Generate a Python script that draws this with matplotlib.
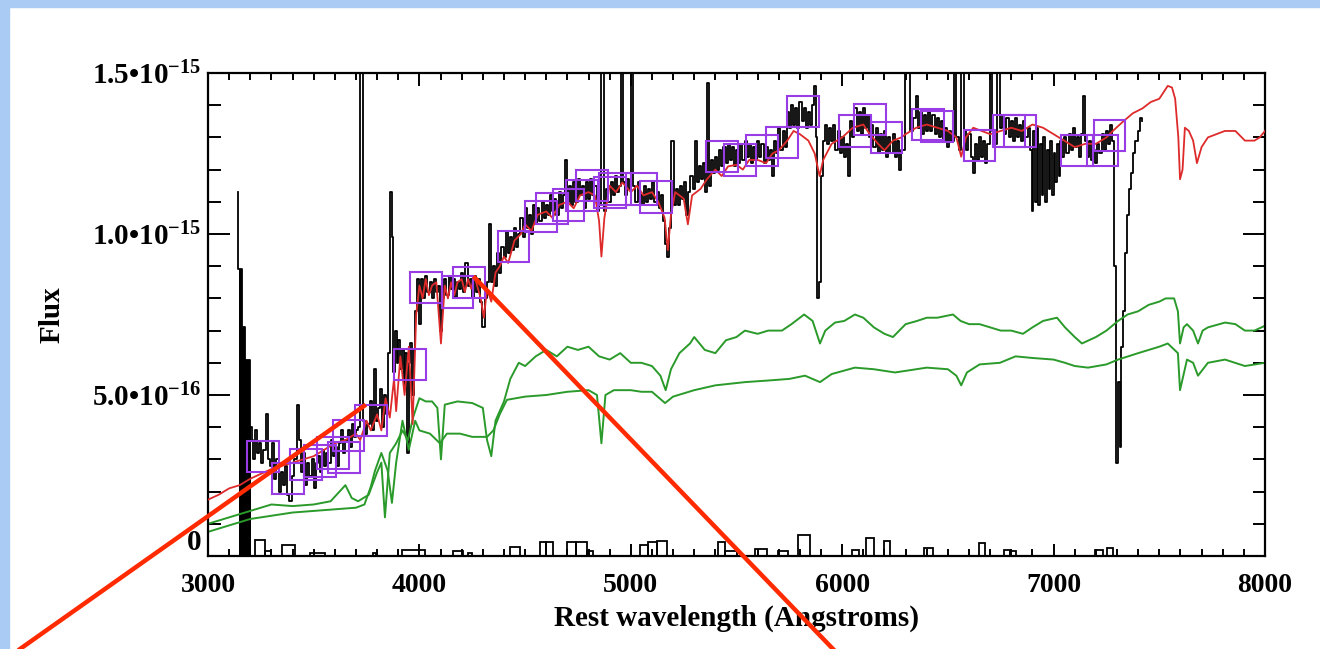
import matplotlib.pyplot as plt
import numpy as np
from matplotlib.patches import Rectangle
from matplotlib.lines import Line2D

plt.rcParams['font.family'] = ['Liberation Serif', 'DejaVu Serif']
plt.rcParams['font.weight'] = 'bold'
plt.rcParams['mathtext.fontset'] = 'custom'
plt.rcParams['mathtext.rm'] = 'Liberation Serif:bold'
plt.rcParams['mathtext.default'] = 'rm'

# flux values are in units of 1e-16

# saturated block at the blue end of the observed spectrum (filled down to 0)
obs_block = [
    (3140, 11.3), (3147, 8.9), (3155, 8.9), (3163, 7.1), (3171, 7.1), (3179, 6.1),
    (3187, 6.1), (3195, 6.1), (3203, 4.0),
]

# observed spectrum (wavelength, flux)
obs = [
    (3211, 3.6), (3219, 3.0), (3227, 3.9), (3237, 3.2), (3247, 3.5),
    (3257, 2.9), (3267, 3.3), (3279, 4.4), (3289, 3.0), (3299, 2.8), (3309, 3.5),
    (3319, 2.4), (3329, 3.0), (3339, 2.0), (3349, 2.6), (3359, 2.2), (3369, 2.8),
    (3379, 1.9), (3391, 1.7), (3403, 2.5), (3413, 3.0), (3425, 4.7), (3435, 3.6),
    (3445, 2.6), (3455, 3.2), (3465, 2.2), (3475, 2.9), (3485, 2.5), (3495, 3.0),
    (3505, 2.1), (3515, 2.9), (3525, 3.1), (3535, 2.6), (3545, 3.3), (3555, 2.8),
    (3565, 3.2), (3575, 2.9), (3585, 3.6), (3595, 3.1), (3605, 3.4), (3615, 2.8),
    (3625, 3.5), (3635, 3.9), (3645, 3.2), (3655, 3.6), (3665, 3.9), (3675, 3.4),
    (3685, 4.1), (3695, 3.7), (3705, 3.9), (3715, 4.0), (3727, 30.0), (3739, 4.2),
    (3749, 3.8), (3759, 4.1), (3769, 4.8), (3779, 3.9), (3789, 5.8), (3799, 4.2),
    (3809, 4.6), (3819, 5.2), (3829, 4.0), (3839, 5.0), (3849, 4.4), (3857, 6.3),
    (3865, 11.3), (3873, 9.9), (3881, 5.7), (3889, 7.0), (3897, 6.0), (3905, 6.7),
    (3913, 5.8), (3921, 6.4), (3929, 5.2), (3937, 6.3), (3945, 3.2), (3953, 6.0),
    (3961, 6.6), (3969, 5.0), (3977, 6.4), (3985, 7.6), (3993, 8.6), (4003, 7.2),
    (4013, 8.6), (4023, 8.0), (4033, 8.7), (4043, 8.2), (4053, 8.5), (4063, 8.0),
    (4073, 8.6), (4083, 8.2), (4093, 8.4), (4103, 7.0), (4113, 8.0), (4123, 8.6),
    (4133, 8.1), (4143, 8.7), (4153, 8.3), (4163, 8.6), (4173, 8.0), (4183, 8.5),
    (4193, 8.3), (4203, 8.8), (4213, 8.2), (4223, 9.1), (4233, 8.4), (4243, 8.6),
    (4253, 8.0), (4263, 8.7), (4273, 8.2), (4283, 8.6), (4293, 7.9), (4303, 7.1),
    (4313, 8.0), (4323, 8.5), (4333, 10.3), (4343, 8.5), (4353, 9.0), (4363, 8.4),
    (4373, 9.4), (4383, 8.8), (4393, 9.6), (4403, 9.3), (4413, 10.1), (4423, 9.4),
    (4433, 9.9), (4443, 9.5), (4453, 10.2), (4463, 9.6), (4473, 10.0), (4483, 10.5),
    (4493, 9.9), (4503, 10.8), (4513, 10.2), (4523, 10.6), (4533, 10.0), (4543, 10.9),
    (4553, 10.3), (4563, 10.8), (4573, 10.4), (4583, 11.0), (4593, 10.5), (4603, 10.9),
    (4613, 10.6), (4623, 11.2), (4633, 10.7), (4643, 11.1), (4653, 10.6), (4663, 11.3),
    (4673, 10.8), (4683, 11.2), (4693, 12.3), (4703, 11.0), (4713, 11.5), (4723, 10.9),
    (4733, 11.6), (4743, 11.0), (4753, 11.7), (4763, 11.2), (4773, 11.5), (4783, 10.8),
    (4793, 11.6), (4803, 11.1), (4813, 11.7), (4823, 11.2), (4833, 11.5), (4843, 10.7),
    (4853, 10.9), (4865, 30.0), (4877, 10.7), (4889, 11.4), (4899, 11.0), (4909, 11.6),
    (4919, 11.2), (4929, 11.8), (4939, 11.3), (4947, 11.5), (4957, 30.0), (4967, 11.6),
    (4977, 11.2), (4987, 11.7), (4997, 11.4), (5007, 30.0), (5017, 11.5), (5027, 11.0),
    (5037, 11.6), (5047, 11.2), (5057, 10.9), (5067, 11.5), (5077, 11.0), (5087, 11.4),
    (5097, 11.1), (5107, 11.6), (5117, 11.0), (5127, 11.3), (5137, 10.8), (5147, 11.2),
    (5157, 10.4), (5167, 9.7), (5177, 9.3), (5187, 10.2), (5197, 12.9), (5207, 10.9),
    (5217, 11.4), (5227, 10.9), (5237, 11.5), (5247, 11.1), (5257, 11.6), (5267, 10.6),
    (5277, 11.3), (5287, 11.8), (5297, 11.4), (5307, 12.9), (5317, 11.6), (5327, 12.1),
    (5337, 11.7), (5347, 12.2), (5357, 11.3), (5365, 14.7), (5373, 11.5), (5383, 12.3),
    (5393, 11.9), (5403, 12.4), (5413, 12.0), (5423, 12.6), (5433, 12.1), (5443, 12.7),
    (5453, 12.2), (5463, 12.8), (5473, 12.3), (5483, 12.7), (5493, 12.1), (5503, 12.6),
    (5513, 12.2), (5523, 12.8), (5533, 12.3), (5543, 12.9), (5553, 12.4), (5563, 12.8),
    (5573, 12.2), (5583, 12.7), (5593, 12.3), (5603, 12.9), (5613, 12.4), (5623, 12.8),
    (5633, 12.2), (5643, 12.7), (5653, 12.3), (5663, 12.6), (5673, 11.8), (5683, 12.9),
    (5693, 12.5), (5703, 13.3), (5713, 12.6), (5723, 13.2), (5733, 12.7), (5743, 13.8),
    (5753, 13.3), (5763, 14.0), (5773, 13.4), (5783, 13.9), (5793, 13.3), (5803, 14.1),
    (5813, 13.5), (5823, 13.9), (5833, 13.3), (5843, 13.8), (5853, 13.4), (5863, 14.0),
    (5871, 14.6), (5879, 13.0), (5887, 8.0), (5895, 8.5), (5903, 11.8), (5913, 12.9),
    (5923, 13.4), (5933, 12.8), (5943, 13.3), (5953, 12.9), (5963, 13.4), (5973, 12.6),
    (5983, 13.2), (5993, 12.5), (6003, 13.0), (6013, 12.4), (6023, 12.8), (6033, 11.8),
    (6043, 13.5), (6053, 13.0), (6063, 13.9), (6073, 13.2), (6083, 13.8), (6093, 13.1),
    (6103, 13.9), (6113, 13.3), (6123, 13.7), (6133, 13.0), (6143, 13.4), (6153, 12.7),
    (6163, 13.3), (6173, 12.5), (6183, 13.1), (6193, 12.6), (6203, 13.2), (6213, 12.4),
    (6223, 13.0), (6233, 12.5), (6243, 13.1), (6253, 12.4), (6263, 12.9), (6273, 12.0),
    (6284, 12.6), (6308, 30.0), (6332, 13.2), (6342, 13.6), (6352, 14.3), (6362, 13.3),
    (6372, 13.8), (6382, 13.1), (6392, 13.7), (6402, 13.2), (6412, 13.8), (6422, 13.2),
    (6432, 13.7), (6442, 13.1), (6452, 13.6), (6462, 13.0), (6472, 13.5), (6482, 12.9),
    (6492, 13.3), (6502, 12.7), (6512, 13.2), (6522, 12.9), (6534, 30.0), (6546, 13.0),
    (6558, 12.6), (6570, 30.0), (6582, 13.2), (6592, 12.6), (6602, 13.1), (6612, 12.4),
    (6622, 11.9), (6632, 12.8), (6642, 12.3), (6652, 13.0), (6662, 12.4), (6672, 12.9),
    (6682, 12.2), (6692, 12.8), (6704, 30.0), (6716, 13.2), (6728, 12.8), (6740, 30.0),
    (6752, 13.3), (6762, 13.7), (6772, 13.1), (6782, 13.6), (6792, 13.0), (6802, 13.5),
    (6812, 12.9), (6822, 13.6), (6832, 13.0), (6842, 13.4), (6852, 12.9), (6862, 13.5),
    (6872, 13.0), (6882, 13.3), (6892, 12.6), (6900, 10.7), (6908, 13.2), (6916, 11.0),
    (6924, 13.3), (6932, 10.9), (6940, 12.8), (6948, 11.2), (6956, 13.0), (6964, 11.0),
    (6972, 12.6), (6980, 11.4), (6988, 12.9), (6996, 11.2), (7004, 12.5), (7012, 11.6),
    (7020, 12.8), (7028, 11.8), (7036, 12.9), (7046, 12.4), (7056, 13.0), (7066, 12.5),
    (7076, 13.1), (7086, 12.6), (7096, 13.3), (7106, 12.7), (7116, 13.0), (7126, 12.4),
    (7136, 13.1), (7144, 14.3), (7152, 12.9), (7162, 12.4), (7172, 12.9), (7182, 12.3),
    (7192, 12.6), (7202, 12.2), (7212, 12.8), (7222, 12.5), (7232, 13.1), (7242, 12.6),
    (7252, 13.2), (7262, 12.8), (7272, 13.4), (7282, 12.9), (7292, 9.0), (7300, 2.9),
    (7308, 5.4), (7316, 3.4), (7324, 6.5), (7332, 7.6), (7342, 9.4), (7352, 10.6),
    (7362, 11.4), (7372, 11.9), (7382, 12.5), (7392, 12.9), (7402, 13.2), (7412, 13.6),
    (7420, 13.5),
]

# best-fit model (red)
model = [
    (3000, 1.75), (3050, 1.9), (3100, 2.1), (3150, 2.2), (3200, 2.4), (3250, 2.55),
    (3300, 2.7), (3350, 2.8), (3400, 2.9), (3450, 3.0), (3500, 3.1), (3550, 3.3),
    (3600, 3.5), (3650, 3.6), (3700, 3.8), (3720, 3.6), (3750, 4.2), (3770, 3.9),
    (3800, 4.4), (3820, 3.9), (3840, 4.9), (3860, 4.3), (3880, 5.5), (3890, 4.5),
    (3910, 6.2), (3930, 5.0), (3950, 6.5), (3968, 4.1), (3985, 7.5), (4000, 8.4),
    (4015, 8.0), (4030, 8.6), (4045, 8.1), (4060, 8.4), (4080, 8.5), (4102, 6.6),
    (4120, 8.4), (4135, 8.0), (4150, 8.5), (4165, 8.1), (4180, 8.5), (4200, 8.6),
    (4215, 8.2), (4230, 8.6), (4245, 8.3), (4260, 8.7), (4290, 8.0), (4305, 7.4),
    (4320, 8.3), (4340, 7.9), (4360, 8.8), (4380, 9.0), (4400, 9.3), (4420, 9.1),
    (4450, 9.8), (4480, 10.0), (4500, 10.3), (4530, 10.1), (4560, 10.6), (4600, 10.7),
    (4630, 10.5), (4660, 10.9), (4700, 11.0), (4730, 10.8), (4760, 11.2), (4800, 11.3),
    (4830, 11.2), (4850, 10.4), (4861, 9.3), (4875, 10.5), (4900, 11.5), (4930, 11.3),
    (4960, 11.6), (5000, 11.3), (5030, 11.5), (5060, 11.2), (5100, 11.3), (5130, 11.0),
    (5160, 10.5), (5175, 9.5), (5190, 10.6), (5210, 11.3), (5250, 11.1), (5270, 10.3),
    (5290, 11.2), (5330, 11.4), (5360, 11.7), (5400, 12.0), (5430, 11.8), (5460, 12.1),
    (5500, 12.15), (5530, 12.0), (5560, 12.3), (5600, 12.3), (5640, 12.2), (5670, 12.5),
    (5700, 12.6), (5740, 12.9), (5770, 13.2), (5800, 13.1), (5840, 12.9), (5870, 12.5),
    (5893, 11.8), (5910, 12.3), (5950, 12.8), (6000, 13.0), (6050, 13.3), (6100, 13.4),
    (6130, 13.1), (6170, 12.8), (6200, 12.6), (6240, 12.9), (6280, 13.0), (6300, 13.1),
    (6350, 13.3), (6400, 13.4), (6450, 13.3), (6500, 13.2), (6540, 13.0), (6563, 12.4),
    (6585, 13.0), (6620, 13.3), (6660, 13.2), (6700, 13.1), (6750, 13.2), (6800, 13.3),
    (6850, 13.2), (6900, 13.4), (6950, 13.3), (7000, 13.1), (7050, 12.9), (7100, 12.7),
    (7150, 12.8), (7200, 12.8), (7250, 13.0), (7280, 13.2), (7330, 13.5), (7375, 13.75),
    (7420, 13.9), (7460, 14.1), (7500, 14.2), (7520, 14.4), (7540, 14.6), (7560, 14.55),
    (7575, 14.2), (7590, 13.0), (7598, 11.7), (7610, 12.0), (7621, 13.3), (7640, 13.2),
    (7660, 12.9), (7678, 12.2), (7700, 12.7), (7730, 13.0), (7770, 13.1), (7810, 13.2),
    (7860, 13.2), (7905, 12.9), (7950, 12.9), (7975, 13.0), (8000, 13.2),
]

# old stellar population component (upper green at red end)
comp_old = [
    (3000, 1.0), (3100, 1.2), (3200, 1.4), (3300, 1.6), (3400, 1.55), (3500, 1.6),
    (3580, 1.7), (3650, 2.2), (3680, 1.8), (3710, 1.7), (3760, 1.9), (3800, 2.6),
    (3820, 2.9), (3837, 1.2), (3860, 3.2), (3890, 3.5), (3920, 3.9), (3946, 3.6),
    (3970, 4.3), (4000, 4.9), (4030, 4.8), (4060, 4.8), (4085, 4.6), (4102, 3.0),
    (4120, 4.7), (4180, 4.8), (4250, 4.75), (4300, 4.6), (4320, 3.6), (4340, 3.1),
    (4360, 4.2), (4400, 4.8), (4430, 5.5), (4470, 6.0), (4500, 5.9), (4550, 6.2),
    (4600, 6.4), (4650, 6.2), (4700, 6.5), (4750, 6.4), (4800, 6.5), (4850, 6.2),
    (4900, 6.1), (4950, 6.3), (5000, 6.0), (5050, 6.0), (5100, 5.9), (5140, 5.6),
    (5165, 5.15), (5190, 5.8), (5230, 6.3), (5280, 6.6), (5300, 6.8), (5350, 6.4),
    (5400, 6.3), (5450, 6.7), (5500, 6.8), (5540, 7.0), (5600, 6.9), (5650, 7.0),
    (5715, 7.0), (5760, 7.2), (5820, 7.5), (5860, 7.3), (5880, 6.9), (5895, 6.6),
    (5920, 7.0), (5966, 7.25), (6010, 7.3), (6060, 7.5), (6100, 7.4), (6150, 7.1),
    (6200, 6.9), (6240, 6.8), (6300, 7.2), (6354, 7.3), (6400, 7.4), (6450, 7.4),
    (6524, 7.5), (6560, 7.3), (6600, 7.2), (6650, 7.2), (6700, 7.1), (6750, 7.0),
    (6800, 7.0), (6855, 6.9), (6900, 7.1), (6950, 7.3), (7016, 7.4), (7054, 7.1),
    (7100, 6.8), (7134, 6.6), (7200, 6.8), (7250, 7.0), (7305, 7.3), (7350, 7.5),
    (7400, 7.6), (7450, 7.8), (7500, 7.9), (7530, 8.0), (7570, 8.0), (7588, 7.6),
    (7598, 6.6), (7615, 7.1), (7631, 7.2), (7660, 7.0), (7683, 6.6), (7705, 7.0),
    (7730, 7.1), (7811, 7.25), (7860, 7.2), (7905, 7.0), (7950, 7.0), (8000, 7.15),
]

# young stellar population component (lower green at red end)
comp_young = [
    (3000, 0.75), (3100, 0.95), (3200, 1.15), (3300, 1.25), (3400, 1.35), (3500, 1.4),
    (3600, 1.45), (3700, 1.5), (3740, 1.6), (3770, 2.15), (3790, 2.65), (3820, 3.2),
    (3850, 2.65), (3870, 1.65), (3890, 2.9), (3920, 4.2), (3950, 3.3), (3980, 4.2),
    (4000, 3.9), (4050, 3.8), (4097, 3.5), (4130, 3.8), (4192, 3.8), (4250, 3.7),
    (4320, 3.7), (4350, 3.9), (4380, 4.4), (4414, 4.85), (4500, 4.95), (4600, 5.0),
    (4700, 5.1), (4800, 5.15), (4840, 5.0), (4861, 3.5), (4880, 5.0), (4920, 5.15),
    (5000, 5.15), (5050, 5.1), (5100, 5.1), (5162, 4.75), (5200, 4.95), (5300, 5.15),
    (5400, 5.3), (5540, 5.4), (5650, 5.45), (5750, 5.5), (5824, 5.6), (5895, 5.4),
    (5950, 5.65), (6060, 5.85), (6150, 5.8), (6250, 5.7), (6300, 5.75), (6400, 5.85),
    (6500, 5.8), (6540, 5.6), (6563, 5.3), (6590, 5.7), (6650, 5.95), (6746, 6.0),
    (6820, 6.2), (6900, 6.15), (7000, 6.1), (7054, 6.0), (7100, 5.9), (7163, 5.85),
    (7250, 5.95), (7305, 6.1), (7400, 6.3), (7500, 6.5), (7540, 6.6), (7588, 6.3),
    (7598, 5.15), (7631, 6.1), (7660, 6.0), (7683, 5.6), (7730, 6.0), (7811, 6.1),
    (7905, 5.9), (8000, 6.0),
]

# binned flux boxes (purple): centre wavelength, centre flux
box_wave = [3260, 3380, 3465, 3530, 3590, 3645, 3665, 3770, 3955, 4030, 4180, 4235,
            4445, 4575, 4627, 4705, 4770, 4815, 4900, 4925, 5050, 5120, 5430, 5515,
            5620, 5715, 5815, 6060, 6130, 6210, 6405, 6450, 6650, 6790, 6840, 7111,
            7232, 7265]
box_flux = [3.1, 2.4, 2.85, 2.95, 3.2, 3.05, 3.75, 4.2, 5.95, 8.35, 8.2, 8.5,
            9.6, 10.55, 10.8, 10.9, 11.2, 11.5, 11.3, 11.4, 11.4, 11.15, 12.4, 12.3,
            12.6, 12.85, 13.8, 13.2, 13.55, 13.0, 13.4, 13.35, 12.75, 13.2, 13.2, 12.6,
            12.6, 13.05]

# residual histogram at the bottom: left edge, right edge, height
res_left = [3222, 3270, 3350, 3482, 3780, 3918, 4159, 4230, 4428, 4570, 4600, 4698,
            4740, 4793, 5043, 5081, 5125, 5412, 5445, 5588, 5697, 5791, 6047, 6114,
            6199, 6388, 6648, 6766, 6795, 7198, 7253]
res_right = [3270, 3300, 3411, 3553, 3795, 4027, 4206, 4250, 4475, 4600, 4632, 4740,
             4793, 4820, 5081, 5125, 5171, 5445, 5500, 5643, 5745, 5848, 6081, 6152,
             6228, 6431, 6676, 6795, 6823, 7232, 7281]
res_val = [0.5, 0.15, 0.33, 0.1, 0.08, 0.2, 0.17, 0.1, 0.27, 0.43, 0.43, 0.43,
           0.45, 0.15, 0.35, 0.45, 0.48, 0.43, 0.15, 0.22, 0.17, 0.64, 0.2, 0.56,
           0.48, 0.24, 0.4, 0.2, 0.15, 0.18, 0.26]

W, H = 1320, 649
fig = plt.figure(figsize=(W / 100, H / 100), dpi=100)
fig.patch.set_facecolor('white')

# light blue slide border, top and left
blue = '#a9cbf4'
fig.add_artist(Rectangle((0, 1 - 7 / H), 1, 7 / H, transform=fig.transFigure,
                         color=blue, zorder=0))
fig.add_artist(Rectangle((0, 0), 9 / W, 1, transform=fig.transFigure,
                         color=blue, zorder=0))

ax = fig.add_axes([208 / W, 1 - 556 / H, (1265 - 208) / W, (556 - 73) / H])

bw_, bf_ = np.array(obs_block).T
ow, of = np.array(obs_block + obs).T
mw, mf = np.array(model).T
gw1, gf1 = np.array(comp_old).T
gw2, gf2 = np.array(comp_young).T

ax.fill_between(bw_[1:], bf_[1:], 0, step='mid', color='black', lw=0, zorder=2)
ax.plot(ow, of, drawstyle='steps-mid', color='black', lw=1.3, zorder=2)
ax.plot(gw1, gf1, color='#2a9a2a', lw=1.4, zorder=2)
ax.plot(gw2, gf2, color='#2a9a2a', lw=1.4, zorder=2)
ax.plot(mw, mf, color='#de2a2a', lw=1.3, zorder=3)

ax.bar(res_left, res_val, width=np.array(res_right) - np.array(res_left), align='edge',
       fill=False, edgecolor='black', lw=1.3, zorder=2)

box_w, box_h = 150, 0.97
for bw, bf in zip(box_wave, box_flux):
    ax.add_patch(Rectangle((bw - box_w / 2, bf - box_h / 2), box_w, box_h,
                           fill=False, edgecolor='#9a3ce6', lw=1.5, zorder=4))

ax.set_xlim(3000, 8000)
ax.set_ylim(0, 15)
ax.set_xticks([3000, 4000, 5000, 6000, 7000, 8000])
ax.set_xticks(np.arange(3000, 8001, 100), minor=True)
ax.set_yticks([0, 5, 10, 15])
ax.set_yticks(np.arange(0, 15.1, 1), minor=True)
ax.set_yticklabels(['0', '5.0•10$^{-16}$', '1.0•10$^{-15}$', '1.5•10$^{-15}$'])
# the "0" label sits just above the axis corner, clear of "3000"
ax.get_yticklabels()[0].set_verticalalignment('bottom')

ax.tick_params(axis='both', which='both', direction='in', top=True, right=True,
               width=1.4, colors='black')
ax.tick_params(axis='x', which='major', length=9, pad=12, labelsize=20)
ax.tick_params(axis='x', which='minor', length=5)
ax.tick_params(axis='y', which='major', length=16, pad=5, labelsize=21)
ax.tick_params(axis='y', which='minor', length=9)
for s in ax.spines.values():
    s.set_linewidth(1.6)

ax.set_xlabel('Rest wavelength (Angstroms)', fontsize=21, fontweight='bold')
ax.xaxis.set_label_coords(0.5, -0.1)
ax.set_ylabel('Flux', fontsize=21, fontweight='bold')
ax.yaxis.set_label_coords(-0.135, 0.5)

# red annotation lines drawn over the slide
fig.add_artist(Line2D([20 / W, 364 / W], [0, 1 - 406 / H], transform=fig.transFigure,
                      color='#ff2a00', lw=3.2, zorder=10))
fig.add_artist(Line2D([475 / W, 833 / W], [1 - 278 / H, 0], transform=fig.transFigure,
                      color='#ff2a00', lw=3.2, zorder=10))

fig.savefig('out.png', dpi=100)
